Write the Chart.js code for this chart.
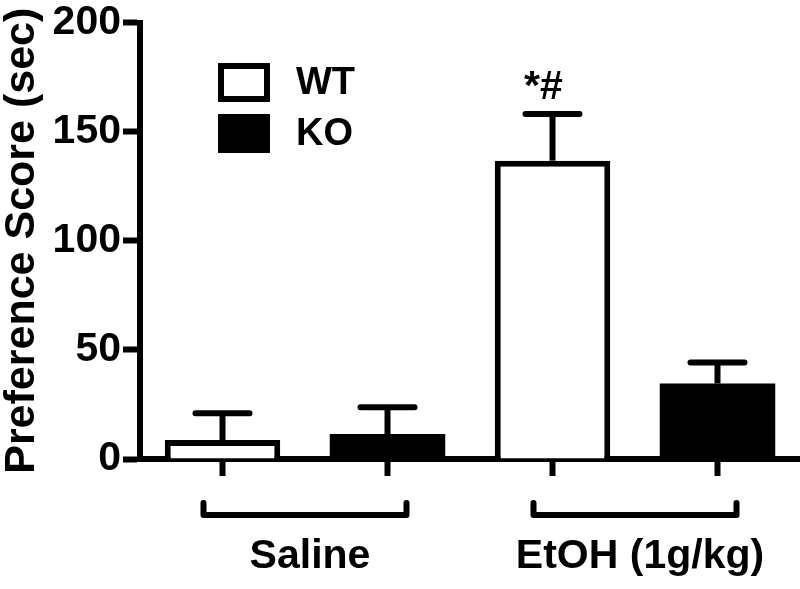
<!DOCTYPE html>
<html>
<head>
<meta charset="utf-8">
<script src="https://cdn.jsdelivr.net/npm/chart.js@4.4.1/dist/chart.umd.min.js"></script>
<style>
  body { margin: 0; background: #fff; }
  #wrap { width: 800px; height: 589px; }
</style>
</head>
<body>
<div id="wrap"><canvas id="prefChart" width="800" height="589"></canvas></div>
<script>
// data
var categories = ['Saline', 'Saline', 'EtOH (1g/kg)', 'EtOH (1g/kg)'];
var seriesNames = ['WT', 'KO'];
var wtValues = [8.7, null, 136.7, null];
var koValues = [null, 11.4, null, 34.6];
var wtErrors = [12.3, null, 21.4, null];
var koErrors = [null, 12.3, null, 9.6];
var marks = ['', '', '*#', ''];
var groupLabels = ['Saline', 'EtOH (1g/kg)'];
var groupIndex = [[0, 1], [2, 3]];
var yTicks = [0, 50, 100, 150, 200];

var FONT = "'Liberation Sans', Arial, sans-serif";

// error bars, star marks, legend, group brackets
var extras = {
  id: 'extras',
  afterDatasetsDraw: function(chart) {
    var ctx = chart.ctx;
    var x = chart.scales.x;
    var y = chart.scales.y;
    var errs = [wtErrors, koErrors];

    ctx.save();
    ctx.strokeStyle = '#000';
    ctx.fillStyle = '#000';
    ctx.lineWidth = 6;

    // error bars (upper only)
    chart.data.datasets.forEach(function(ds, d) {
      ds.data.forEach(function(v, i) {
        if (v == null) return;
        var cx = x.getPixelForValue(i);
        var top = y.getPixelForValue(v + errs[d][i]);
        var base = y.getPixelForValue(v);
        ctx.lineCap = 'butt';
        ctx.beginPath();
        ctx.moveTo(cx, base);
        ctx.lineTo(cx, top);
        ctx.stroke();
        ctx.lineCap = 'round';
        ctx.beginPath();
        ctx.moveTo(cx - 27, top);
        ctx.lineTo(cx + 27, top);
        ctx.stroke();
        if (marks[i]) {
          ctx.font = 'bold 41px ' + FONT;
          ctx.textAlign = 'center';
          ctx.textBaseline = 'alphabetic';
          ctx.fillText(marks[i], cx - 9, top - 15);
        }
      });
    });

    // legend
    var ly = [63, 114];
    chart.data.datasets.forEach(function(ds, d) {
      ctx.fillStyle = '#000';
      ctx.fillRect(218, ly[d], 52, 39);
      if (ds.backgroundColor !== '#000') {
        ctx.fillStyle = ds.backgroundColor;
        ctx.fillRect(224, ly[d] + 6, 40, 27);
      }
      ctx.fillStyle = '#000';
      ctx.font = 'bold 38px ' + FONT;
      ctx.textAlign = 'left';
      ctx.textBaseline = 'middle';
      ctx.fillText(ds.label, 296, ly[d] + 21);
    });

    // group brackets and labels
    ctx.lineCap = 'round';
    ctx.lineJoin = 'round';
    groupIndex.forEach(function(g, k) {
      var x1 = x.getPixelForValue(g[0]) - 19;
      var x2 = x.getPixelForValue(g[1]) + 19;
      ctx.beginPath();
      ctx.moveTo(x1, 503);
      ctx.lineTo(x1, 515);
      ctx.lineTo(x2, 515);
      ctx.lineTo(x2, 503);
      ctx.stroke();
      ctx.font = 'bold 41px ' + FONT;
      ctx.textAlign = 'center';
      ctx.textBaseline = 'alphabetic';
      ctx.fillText(groupLabels[k], (x1 + x2) / 2 + 5, 568);
    });
    ctx.restore();
  }
};

var ctx = document.getElementById('prefChart');
var chart = new Chart(ctx, {
  type: 'bar',
  data: {
    labels: categories,
    datasets: [{
      label: seriesNames[0],
      data: wtValues,
      backgroundColor: '#fff',
      borderColor: '#000',
      borderWidth: 6,
      borderSkipped: 'start'
    }, {
      label: seriesNames[1],
      data: koValues,
      backgroundColor: '#000',
      borderColor: '#000',
      borderWidth: 0
    }]
  },
  options: {
    responsive: false,
    animation: false,
    devicePixelRatio: 1,
    barPercentage: 0.7,
    categoryPercentage: 1,
    layout: { padding: { top: 20, right: 0, left: 0, bottom: 0 } },
    plugins: {
      legend: { display: false },
      tooltip: { enabled: false }
    },
    scales: {
      x: {
        stacked: true,
        offset: true,
        afterFit: function(scale) { scale.height = 130; },
        grid: {
          offset: false,
          drawOnChartArea: false,
          drawTicks: true,
          tickLength: 17,
          tickWidth: 6,
          tickColor: '#000'
        },
        border: { color: '#000', width: 6 },
        ticks: { display: false }
      },
      y: {
        min: 0,
        max: 200,
        afterFit: function(scale) { scale.width = 140; },
        afterBuildTicks: function(scale) {
          scale.ticks = yTicks.map(function(v) { return { value: v }; });
        },
        grid: {
          drawOnChartArea: false,
          drawTicks: true,
          tickLength: 17,
          tickWidth: 6,
          tickColor: '#000'
        },
        border: { color: '#000', width: 6 },
        ticks: {
          color: '#000',
          padding: 2,
          font: { family: FONT, size: 41, weight: 'bold', lineHeight: 1 }
        },
        title: {
          display: true,
          text: 'Preference Score (sec)',
          color: '#000',
          padding: 0,
          font: { family: FONT, size: 43, weight: 'bold', lineHeight: 1.05 }
        }
      }
    }
  },
  plugins: [extras]
});
</script>
</body>
</html>
